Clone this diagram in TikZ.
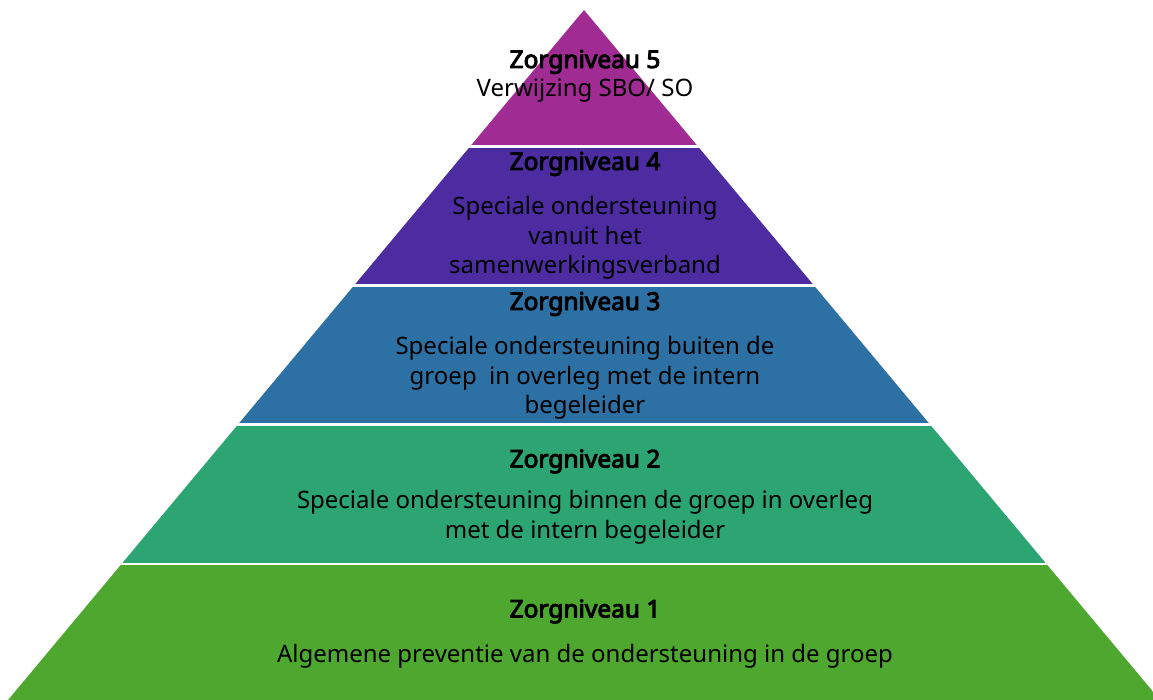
\documentclass[tikz,border=0pt]{standalone}
\usepackage{fontspec}
\setmainfont{Noto Sans}[AutoFakeBold=4]
\definecolor{lvfive}{HTML}{A02B93}
\definecolor{lvfour}{HTML}{4D2CA2}
\definecolor{lvthree}{HTML}{2D70A4}
\definecolor{lvtwo}{HTML}{2DA573}
\definecolor{lvone}{HTML}{4EA72E}
\begin{document}
\begin{tikzpicture}[x=1pt,y=-1pt,
  ttl/.style={font=\fontsize{24.5}{28}\selectfont\bfseries, anchor=base, inner sep=0pt, text=black},
  bdy/.style={font=\fontsize{24}{28}\selectfont, anchor=base, inner sep=0pt, text=black},
  sep/.style={white, line width=2.6pt}]
\useasboundingbox (0,0) rectangle (1153,700);
\begin{scope}
  \clip (584,10) -- (8,700) -- (1160,700) -- cycle;
  \fill[lvfive]  (0,0)     rectangle (1160,146.7);
  \fill[lvfour]  (0,146.7) rectangle (1160,285.7);
  \fill[lvthree] (0,285.7) rectangle (1160,424.2);
  \fill[lvtwo]   (0,424.2) rectangle (1160,563.8);
  \fill[lvone]   (0,563.8) rectangle (1160,700);
  \draw[sep] (0,146.7) -- (1160,146.7);
  \draw[sep] (0,285.7) -- (1160,285.7);
  \draw[sep] (0,424.2) -- (1160,424.2);
  \draw[sep] (0,563.8) -- (1160,563.8);
\end{scope}
% level 5
\node[ttl] (t5) at (585,68) {Zorgniveau 5};
\node[bdy] (b5) at (585,97) {Verwijzing SBO/ SO};
% level 4
\node[ttl] (t4) at (585,170) {Zorgniveau 4};
\node[bdy] (b4a) at (585,215) {Speciale ondersteuning};
\node[bdy] (b4b) at (585,245) {vanuit het};
\node[bdy] (b4c) at (585,274) {samenwerkingsverband};
% level 3
\node[ttl] (t3) at (585,310) {Zorgniveau 3};
\node[bdy] (b3a) at (585,354) {Speciale ondersteuning buiten de};
\node[bdy] (b3b) at (585,384) {groep~ in overleg met de intern};
\node[bdy] (b3c) at (585,413) {begeleider};
% level 2
\node[ttl] (t2) at (585,467.5) {Zorgniveau 2};
\node[bdy] (b2a) at (585,508.5) {Speciale ondersteuning binnen de groep in overleg};
\node[bdy] (b2b) at (585,538.5) {met de intern begeleider};
% level 1
\node[ttl] (t1) at (585,617.5) {Zorgniveau 1};
\node[bdy] (b1) at (585,662.5) {Algemene preventie van de ondersteuning in de groep};
\end{tikzpicture}
\end{document}
